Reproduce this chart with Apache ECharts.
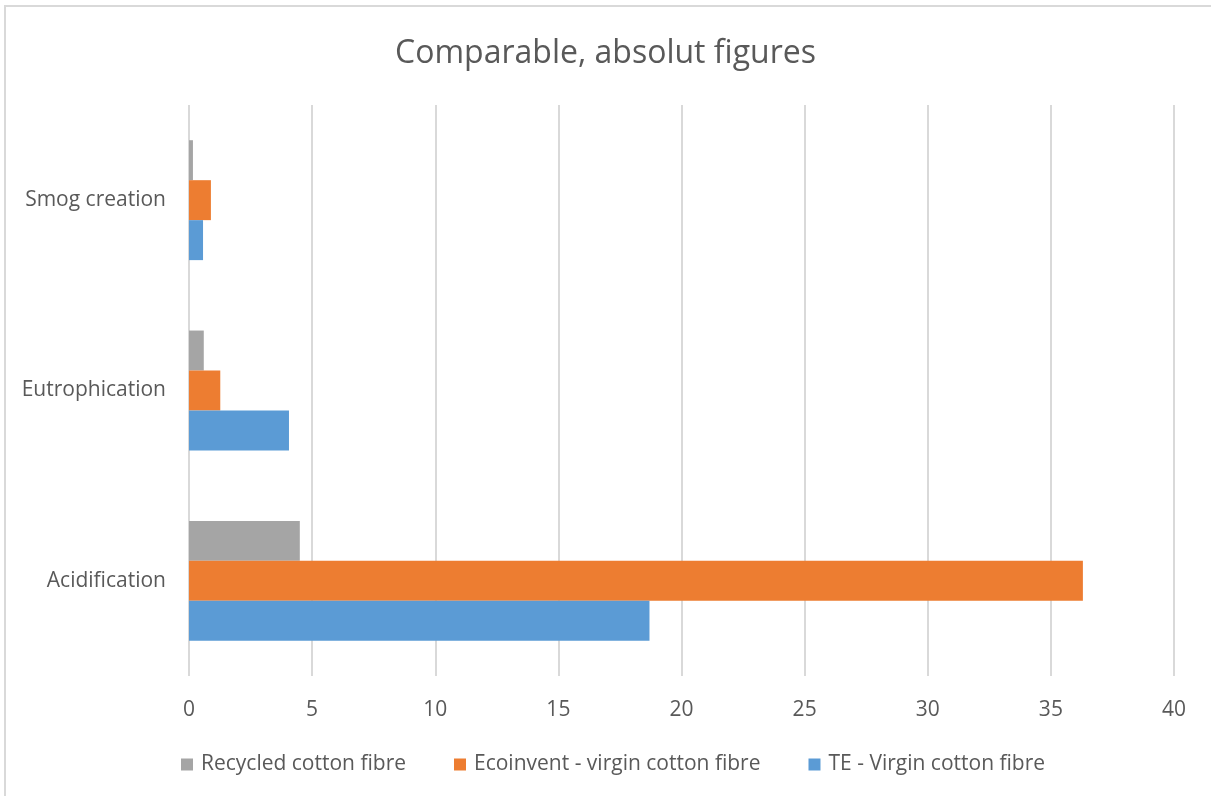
<!DOCTYPE html>
<html>
<head>
<meta charset="utf-8">
<script src="https://cdn.jsdelivr.net/npm/echarts@6/dist/echarts.min.js"></script>
<style>
  html, body { margin: 0; padding: 0; background: #ffffff; }
  #chart { width: 1211px; height: 796px; }
</style>
</head>
<body>
<div id="chart"></div>
<script>
// Impact categories, listed bottom to top on the value chart
const categories = ['Acidification', 'Eutrophication', 'Smog creation'];

// Series values per category
const recycledCotton = [4.5, 0.6, 0.16];
const ecoinventVirgin = [36.3, 1.27, 0.89];
const teVirgin = [18.7, 4.06, 0.57];

// Value axis ticks
const xTicks = [0, 5, 10, 15, 20, 25, 30, 35, 40];

const seriesNames = ['Recycled cotton fibre', 'Ecoinvent - virgin cotton fibre', 'TE - Virgin cotton fibre'];

const FONT = '"Open Sans", Lato, sans-serif';
const TEXT = '#595959';

const chart = echarts.init(document.getElementById('chart'), null, { renderer: 'canvas' });

const barSeries = (name, data, color) => ({
  name: name,
  type: 'bar',
  data: data,
  barGap: '0%',
  barCategoryGap: '37%',
  itemStyle: { color: color },
  emphasis: { disabled: true }
});

chart.setOption({
  animation: false,
  backgroundColor: '#ffffff',
  title: {
    text: 'Comparable, absolut figures',
    left: 'center',
    top: 33,
    textStyle: { fontFamily: FONT, fontSize: 32, fontWeight: 'normal', color: TEXT }
  },
  graphic: [{
    type: 'rect',
    shape: { x: 5, y: 6, width: 1220, height: 800 },
    style: { fill: 'none', stroke: '#d9d9d9', lineWidth: 2 },
    silent: true
  }],
  legend: {
    data: seriesNames,
    bottom: 16,
    left: 176,
    padding: 5,
    itemWidth: 12,
    itemHeight: 12,
    itemGap: 48,
    icon: 'rect',
    textStyle: { fontFamily: FONT, fontSize: 21, color: TEXT, padding: [0, 0, 0, 3] }
  },
  grid: { left: 189, right: 37, top: 105, bottom: 120, containLabel: false },
  xAxis: {
    type: 'value',
    min: xTicks[0],
    max: xTicks[xTicks.length - 1],
    interval: xTicks[1] - xTicks[0],
    axisLine: { show: false },
    axisTick: { show: false },
    axisLabel: { fontFamily: FONT, fontSize: 21, color: TEXT, margin: 24 },
    splitLine: { show: true, lineStyle: { color: '#d9d9d9', width: 2 } }
  },
  yAxis: {
    type: 'category',
    data: categories,
    axisLine: { show: false },
    axisTick: { show: false },
    axisLabel: { fontFamily: FONT, fontSize: 21, color: TEXT, margin: 23 }
  },
  series: [
    barSeries(seriesNames[0], recycledCotton, '#a5a5a5'),
    barSeries(seriesNames[1], ecoinventVirgin, '#ed7d31'),
    barSeries(seriesNames[2], teVirgin, '#5b9bd5')
  ]
});
</script>
</body>
</html>
